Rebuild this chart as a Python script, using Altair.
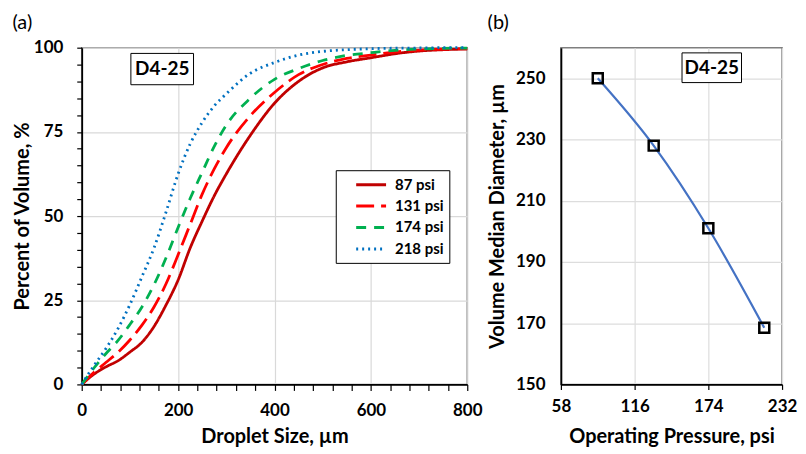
import altair as alt
import pandas as pd

# ---------------- Panel (a) data ----------------
sizes = [0, 25, 50, 75, 100, 125, 150, 175, 200, 225, 250, 275, 300, 350, 400, 450, 500, 550, 600, 650, 700, 750, 800]
p87 = [0, 3.0, 5.2, 7.0, 9.6, 12.5, 17.2, 23.6, 31.0, 40.5, 48.5, 56.0, 62.5, 74.0, 83.5, 90.0, 94.0, 95.8, 97.0, 98.2, 99.0, 99.4, 99.6]
p131 = [0, 3.5, 6.5, 9.5, 13.2, 17.6, 23.0, 29.9, 38.5, 47.5, 56.5, 64.0, 70.3, 79.8, 86.7, 92.0, 95.0, 96.8, 97.8, 98.7, 99.3, 99.6, 99.7]
p174 = [0, 4.8, 9.1, 13.0, 17.8, 23.0, 29.6, 37.6, 46.6, 55.2, 63.0, 70.7, 77.0, 85.0, 90.6, 93.8, 96.2, 97.7, 98.5, 99.2, 99.6, 99.8, 99.9]
p218 = [0, 5.5, 10.6, 16.5, 23.7, 32.0, 40.5, 51.2, 62.5, 71.4, 77.8, 82.7, 86.3, 92.4, 95.6, 97.8, 98.9, 99.4, 99.7, 99.85, 99.9, 100, 100]

series_names = ["87 psi", "131 psi", "174 psi", "218 psi"]
series_colors = ["#C00000", "#FF0000", "#00B050", "#0070C0"]
series_dash = [[1, 0], [18, 7], [10, 8], [2, 4]]

# ---------------- Panel (b) data ----------------
pressures = [87, 131, 174, 218]
vmd = [250, 228, 201, 168.5]

# annotation labels
label_a = {"x": 167, "y": 93.7, "x1": 102, "x2": 232, "y1": 89.0, "y2": 98.3, "text": "D4-25"}
label_b = {"x": 176.7, "y": 253.4, "x1": 153.3, "x2": 200.1, "y1": 248.6, "y2": 258.3, "text": "D4-25"}

FONT = "Lato"

rows = []
for name, vals in zip(series_names, [p87, p131, p174, p218]):
    for s, v in zip(sizes, vals):
        rows.append({"size": s, "pct": v, "series": name})
dfa = pd.DataFrame(rows)
dfb = pd.DataFrame({"pressure": pressures, "vmd": vmd})
dla = pd.DataFrame([label_a])
dlb = pd.DataFrame([label_b])

xa_scale = alt.Scale(domain=[0, 800], nice=False)
ya_scale = alt.Scale(domain=[0, 100], nice=False)

xa_axis = alt.Axis(
    title="Droplet Size, µm", values=list(range(0, 801, 40)),
    labelExpr="datum.value % 200 === 0 ? datum.label : ''",
    gridColor={"condition": {"test": "datum.value % 200 === 0", "value": "#d9d9d9"}, "value": "rgba(0,0,0,0)"},
    labelOverlap=False, labelFlush=False, tickSize=6, labelPadding=12, titlePadding=8,
)
ya_axis = alt.Axis(
    title="Percent of Volume, %", values=list(range(0, 101, 5)),
    labelExpr="datum.value % 25 === 0 ? datum.label : ''",
    gridColor={"condition": {"test": "datum.value % 25 === 0", "value": "#d9d9d9"}, "value": "rgba(0,0,0,0)"},
    labelOverlap=False, tickSize=5, labelPadding=14, titlePadding=1,
)

lines_a = alt.Chart(dfa).mark_line(interpolate="monotone", strokeWidth=2.8).encode(
    x=alt.X("size:Q", scale=xa_scale, axis=xa_axis),
    y=alt.Y("pct:Q", scale=ya_scale, axis=ya_axis),
    color=alt.Color("series:N", scale=alt.Scale(domain=series_names, range=series_colors),
                    legend=alt.Legend(title=None, orient="none", legendX=255, legendY=123,
                                      fillColor="white", strokeColor="black", padding=5.5,
                                      symbolType="M-2,0L2,0", symbolSize=225, symbolStrokeWidth=3,
                                      symbolOffset=21, labelFontSize=15, labelFont=FONT,
                                      labelFontWeight="bold", labelColor="black",
                                      rowPadding=4.5, labelOffset=15, labelLimit=200)),
    strokeDash=alt.StrokeDash("series:N", scale=alt.Scale(domain=series_names, range=series_dash),
                              legend=None),
    order=alt.Order("size:Q"),
)

box_a = alt.Chart(dla).mark_rect(fill="white", stroke="black", strokeWidth=1).encode(
    x=alt.X("x1:Q", scale=xa_scale, axis=xa_axis), x2="x2:Q",
    y=alt.Y("y1:Q", scale=ya_scale, axis=ya_axis), y2="y2:Q")
text_a = alt.Chart(dla).mark_text(font=FONT, fontSize=19, fontWeight="bold", color="black").encode(
    x=alt.X("x:Q", scale=xa_scale, axis=xa_axis),
    y=alt.Y("y:Q", scale=ya_scale, axis=ya_axis), text="text:N")

panel_a = alt.layer(lines_a, box_a, text_a).properties(
    width=387, height=338,
    title=alt.TitleParams("(a)", anchor="start", fontSize=20, fontWeight="normal", font=FONT,
                          color="black", offset=6),
)

# ---------------- Panel (b) ----------------
xb_scale = alt.Scale(domain=[58, 232], nice=False)
yb_scale = alt.Scale(domain=[150, 260], nice=False)
xb_axis = alt.Axis(title="Operating Pressure, psi", values=[58, 116, 174, 232], labelFlush=False,
                   tickSize=5, labelPadding=9, titlePadding=12, labelOverlap=False)
yb_axis = alt.Axis(title="Volume Median Diameter, µm", values=[150, 170, 190, 210, 230, 250],
                   ticks=False, labelPadding=16, titlePadding=8, labelOverlap=False)

line_b = alt.Chart(dfb).mark_line(interpolate="monotone", color="#4472C4", strokeWidth=2.2).encode(
    x=alt.X("pressure:Q", scale=xb_scale, axis=xb_axis),
    y=alt.Y("vmd:Q", scale=yb_scale, axis=yb_axis),
)
pts_b = alt.Chart(dfb).mark_point(shape="square", filled=False, color="black", strokeWidth=2.5,
                                  size=100, opacity=1).encode(
    x=alt.X("pressure:Q", scale=xb_scale, axis=xb_axis),
    y=alt.Y("vmd:Q", scale=yb_scale, axis=yb_axis))
box_b = alt.Chart(dlb).mark_rect(fill="white", stroke="black", strokeWidth=1).encode(
    x=alt.X("x1:Q", scale=xb_scale, axis=xb_axis), x2="x2:Q",
    y=alt.Y("y1:Q", scale=yb_scale, axis=yb_axis), y2="y2:Q")
text_b = alt.Chart(dlb).mark_text(font=FONT, fontSize=19, fontWeight="bold", color="black").encode(
    x=alt.X("x:Q", scale=xb_scale, axis=xb_axis),
    y=alt.Y("y:Q", scale=yb_scale, axis=yb_axis), text="text:N")

panel_b = alt.layer(line_b, pts_b, box_b, text_b).properties(
    width=222, height=338,
    title=alt.TitleParams("(b)", anchor="start", fontSize=20, fontWeight="normal", font=FONT,
                          color="black", offset=15),
)

chart = alt.hconcat(panel_a, panel_b, spacing=3).properties(
    padding={"left": 3, "top": 3, "right": 0, "bottom": 0}, background="white"
).configure_view(
    stroke="#7f7f7f", strokeWidth=1.5
).configure_axis(
    labelFont=FONT, labelFontSize=17, labelFontWeight="bold", labelColor="black",
    titleFont=FONT, titleFontSize=20, titleFontWeight="bold", titleColor="black",
    domainColor="black", domainWidth=1.8, tickColor="black", tickWidth=1.2,
    gridWidth=1.2,
)

chart.save("out.html", embed_options={"renderer": "svg", "actions": False})
